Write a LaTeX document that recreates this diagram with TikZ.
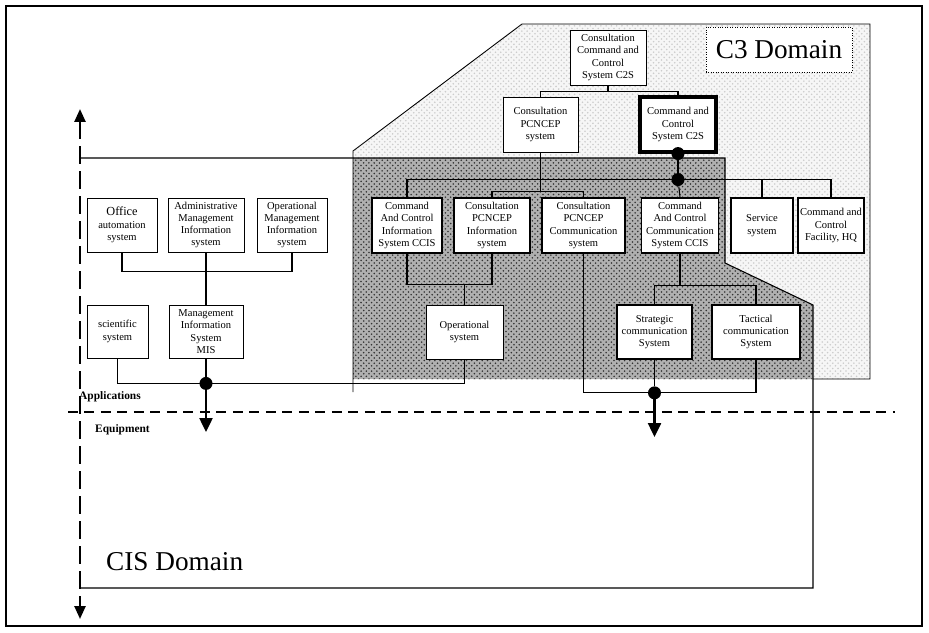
\documentclass[tikz,border=0pt]{standalone}
\usepackage{fontspec}
\setmainfont{Liberation Serif}
\usetikzlibrary{arrows.meta,patterns}

\begin{document}
\begin{tikzpicture}[
  x=0.02cm, y=-0.02cm,
  box/.style={draw, fill=white, line width=0.5pt, inner sep=1pt, align=center, font=\fontsize{6}{7}\selectfont, minimum height=1.1cm},
  boxb/.style={box, line width=1pt},
  wire/.style={line width=0.6pt},
  arr/.style={-{Triangle[width=0.26cm,length=0.28cm]}, line width=1.4pt},
  dot/.style={circle, fill, inner sep=0pt, minimum size=0.26cm},
  sep/.style={line width=1.5pt, dash pattern=on 0.2cm off 0.13cm},
  domlbl/.style={font=\fontsize{15.5}{18}\selectfont},
]
\useasboundingbox (0,0) rectangle (929,632);
\draw[line width=0.8pt] (6,6) rectangle (922,626);
% domains
\fill[gray!7, postaction={pattern=crosshatch dots, pattern color=gray!40}] (353,151) -- (522,24) -- (870,24) -- (870,379) -- (353,379) -- cycle;
\fill[gray!62, postaction={pattern=crosshatch dots, pattern color=black!80}] (353,158) -- (725,158) -- (725,263) -- (813,305) -- (813,379) -- (353,379) -- cycle;
\draw[line width=0.5pt] (353,392) -- (353,151) -- (522,24) -- (870,24) -- (870,379) -- (813,379);
\draw[line width=0.6pt] (81,158) -- (725,158) -- (725,263) -- (813,305) -- (813,588) -- (81,588);
\node[draw, densely dotted, fill=white, minimum width=2.92cm, minimum height=0.9cm, domlbl] (c3lbl) at (779,49.5) {C3 Domain};
\node[domlbl, anchor=west] (cislbl) at (100,562) {CIS Domain};
% axes
\draw[sep] (68,412) -- (895,412);
\draw[line width=1.4pt, dash pattern=on 0.36cm off 0.14cm, {Triangle[width=0.22cm,length=0.26cm]}-{Triangle[width=0.22cm,length=0.26cm]}] (80,109) -- (80,619);
\node[font=\bfseries\fontsize{6.5}{8}\selectfont, anchor=west] (appl) at (73,397) {Applications};
\node[font=\bfseries\fontsize{6.5}{8}\selectfont, anchor=west] (equip) at (89,430) {Equipment};
% c3 boxes
\node[box, minimum width=1.52cm] (topc2s) at (608,57.5) {Consultation\\Command and\\Control\\System C2S};
\node[box, minimum width=1.5cm] (pcnsys) at (540.5,124.5) {Consultation\\PCNCEP\\system};
\node[box, line width=1.8pt, minimum width=1.52cm] (c2sys) at (678,124.5) {Command and\\Control\\System C2S};
\node[boxb, minimum width=1.4cm] (ccis) at (407,225.5) {Command\\And Control\\Information\\System CCIS};
\node[boxb, minimum width=1.52cm] (pcninfo) at (492,225.5) {Consultation\\PCNCEP\\Information\\system};
\node[boxb, minimum width=1.66cm] (pcncomm) at (583.5,225.5) {Consultation\\PCNCEP\\Communication\\system};
\node[boxb, minimum width=1.54cm] (cccs) at (680,225.5) {Command\\And Control\\Communication\\System CCIS};
\node[boxb, minimum width=1.24cm] (service) at (762,225.5) {Service\\system};
\node[boxb, minimum width=1.24cm] (facility) at (831,225.5) {Command and\\Control\\Facility, HQ};
\node[box, minimum width=1.54cm, minimum height=1.08cm] (operational) at (464.5,332) {Operational\\system};
\node[boxb, minimum width=1.5cm, minimum height=1.08cm] (strategic) at (654.5,332) {Strategic\\communication\\System};
\node[boxb, minimum width=1.76cm, minimum height=1.08cm] (tactical) at (756,332) {Tactical\\communication\\System};
% cis boxes
\node[box, minimum width=1.4cm, minimum height=1.08cm] (office) at (122,225) {\fontsize{7}{8}\selectfont Office\\automation\\system};
\node[box, minimum width=1.52cm, minimum height=1.08cm] (admin) at (206,225) {Administrative\\Management\\Information\\system};
\node[box, minimum width=1.4cm, minimum height=1.08cm] (opmis) at (292,225) {Operational\\Management\\Information\\system};
\node[box, minimum width=1.22cm, minimum height=1.06cm] (scientific) at (117.5,331.5) {scientific\\system};
\node[box, minimum width=1.48cm, minimum height=1.06cm] (mis) at (206,331.5) {Management\\Information\\System\\MIS};
% junctions
\node[dot] (d1) at (c2sys.south) {};
\node[dot] (d2) at ([yshift=-0.52cm]c2sys.south) {};
\node[dot] (d3) at ([yshift=-0.5cm]mis.south) {};
\node[dot] (d4) at ([yshift=-0.66cm]strategic.south) {};
\coordinate (j1) at ([yshift=-0.12cm]topc2s.south);
\coordinate (j3) at ([yshift=-0.78cm]pcnsys.south);
\coordinate (j4) at ([yshift=0.4cm]operational.north);
\coordinate (j5) at ([yshift=-0.64cm]cccs.south);
\coordinate (misout) at (206,432);
\coordinate (commout) at (654.5,437);
% links
\draw[wire] (topc2s.south) -- (j1);
\draw[wire] (pcnsys.north) |- (j1) -| (c2sys.north);
\draw[line width=1.4pt] (d1) -- (d2);
\draw[wire] (ccis.north) |- (d2.center) -| (facility.north);
\draw[wire] (d2) -- (cccs.north);
\draw[wire] (service.north) -- (service.north |- d2.center);
\draw[wire] (pcnsys.south) -- (j3);
\draw[wire] (pcninfo.north) |- (j3) -| (pcncomm.north);
\draw[wire] (ccis.south) |- (j4) -| (pcninfo.south);
\draw[wire] (j4) -- (operational.north);
\draw[wire] (cccs.south) -- (j5);
\draw[wire] (strategic.north) |- (j5) -| (tactical.north);
\draw[wire] (office.south) -- ++(0,19) -| (opmis.south);
\draw[wire] (admin.south) -- (mis.north);
\draw[wire] (scientific.south) |- (d3.center) -| (operational.south);
\draw[wire] (mis.south) -- (d3);
\draw[wire] (pcncomm.south) |- (d4.center) -| (tactical.south);
\draw[wire] (strategic.south) -- (d4);
\draw[arr] (d3.center) -- (misout);
\draw[arr] (d4.center) -- (commout);
\end{tikzpicture}
\end{document}
